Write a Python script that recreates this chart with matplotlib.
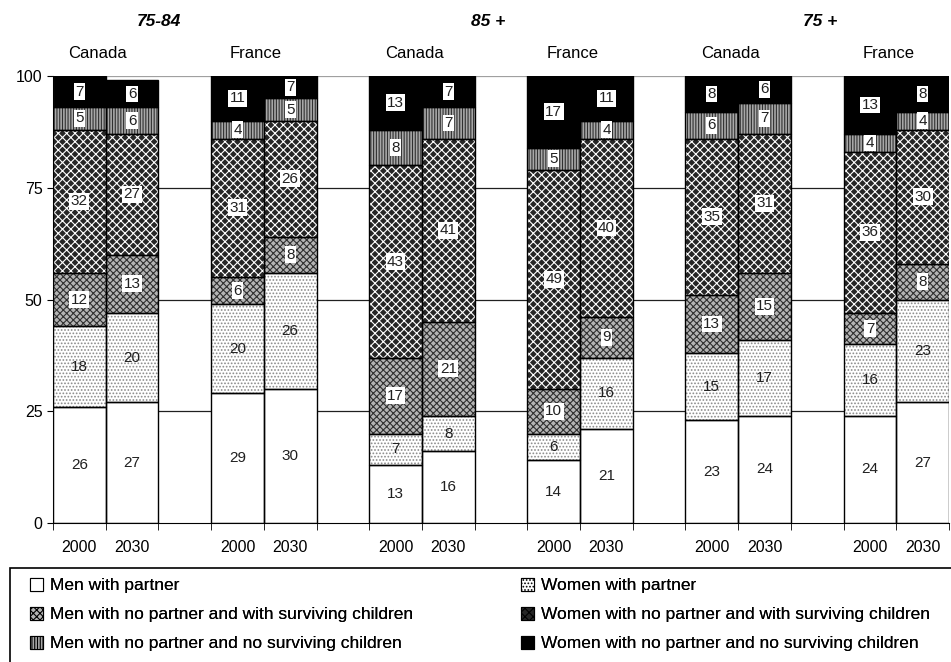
import numpy as np
import matplotlib
matplotlib.use("Agg")
import matplotlib.pyplot as plt

plt.rcParams['font.family'] = ['Liberation Sans', 'DejaVu Sans']
plt.rcParams['hatch.linewidth'] = 0.8

# bars: (age group, country, year)
age_groups = ['75-84', '85 +', '75 +']
countries = ['Canada', 'France', 'Canada', 'France', 'Canada', 'France']
years = ['2000', '2030'] * 6

series_names = [
    'Men with partner',
    'Women with partner',
    'Men with no partner and with surviving children',
    'Women with no partner and with surviving children',
    'Men with no partner and no surviving children',
    'Women with no partner and no surviving children',
]

men_partner = [26, 27, 29, 30, 13, 16, 14, 21, 23, 24, 24, 27]
women_partner = [18, 20, 20, 26, 7, 8, 6, 16, 15, 17, 16, 23]
men_nopartner_children = [12, 13, 6, 8, 17, 21, 10, 9, 13, 15, 7, 8]
women_nopartner_children = [32, 27, 31, 26, 43, 41, 49, 40, 35, 31, 36, 30]
men_nopartner_nochildren = [5, 6, 4, 5, 8, 7, 5, 4, 6, 7, 4, 4]
women_nopartner_nochildren = [7, 6, 11, 7, 13, 7, 17, 11, 8, 6, 13, 8]

values = [men_partner, women_partner, men_nopartner_children,
          women_nopartner_children, men_nopartner_nochildren,
          women_nopartner_nochildren]

# fill style per series: (face, hatch, hatch colour, boxed label)
styles = [
    ('white', None, 'black', False),
    ('white', '.....', '#8a8a8a', False),
    ('#b4b4b4', 'xxxxx', '#303030', True),
    ('#262626', 'xxxx', 'white', True),
    ('#a8a8a8', '||||||', '#303030', True),
    ('black', None, 'black', True),
]

# two bars per country, then an empty slot
x = np.array([g * 3 + b for g in range(6) for b in range(2)], dtype=float)

fig = plt.figure(figsize=(9.51, 6.62), dpi=100)
ax = fig.add_axes([53 / 951, 1 - 523 / 662, 896 / 951, 447 / 662])

for yv, c in [(25, '#202020'), (50, '#202020'), (75, '#202020'), (100, '#a0a0a0')]:
    ax.axhline(yv, color=c, lw=0.9, zorder=0)

bottom = np.zeros(len(x))
for vals, (face, hatch, hc, boxed) in zip(values, styles):
    vals = np.array(vals, dtype=float)
    ax.bar(x, vals, width=1.0, bottom=bottom, color=face, hatch=hatch,
           edgecolor=hc, linewidth=0, zorder=2)
    ax.bar(x, vals, width=1.0, bottom=bottom, fill=False,
           edgecolor='black', linewidth=1.0, zorder=3)
    for xi, b, v in zip(x, bottom, vals):
        top = min(b + v, 100)
        yc = (b + top) / 2
        box = dict(facecolor='white', edgecolor='none', pad=1.0) if boxed else None
        ax.text(xi, yc, f"{int(v)}", ha='center', va='center', fontsize=11,
                color='#202020', zorder=4, bbox=box)
    bottom += vals

ax.set_xlim(-0.5, 16.5)
ax.set_ylim(0, 100)
ax.set_yticks([0, 25, 50, 75, 100])
ax.tick_params(axis='y', labelsize=11.5, length=4, direction='out')
ax.set_xticks(x)
ax.set_xticklabels(years, fontsize=11.5)
ax.tick_params(axis='x', which='major', length=0, pad=12)
ax.set_xticks(np.arange(-0.5, 17, 1.0), minor=True)
ax.tick_params(axis='x', which='minor', length=5, direction='out')
for s in ['top', 'right']:
    ax.spines[s].set_visible(False)
ax.spines['left'].set_color('#707070')

# country labels above each pair
for g, name in enumerate(countries):
    ax.text(g * 3 + 0.35, 105.0, name, ha='center', va='center', fontsize=12,
            clip_on=False)

# age group titles
for xpos, name in zip([1.5, 7.75, 14.05], age_groups):
    ax.text(xpos, 112.3, name, ha='center', va='center', fontsize=12.5,
            fontweight='bold', fontstyle='italic', clip_on=False)

handles = []
for face, hatch, hc, boxed in styles:
    handles.append(plt.Rectangle((0, 0), 1, 1, facecolor=face, hatch=hatch,
                                 edgecolor='black', linewidth=0.8))

# legend frame spanning the width below the chart
frame = plt.Rectangle((10 / 951, -0.05), 1.0, 1 - 568 / 662 + 0.05,
                      transform=fig.transFigure, fill=False,
                      edgecolor='black', linewidth=1.2)
fig.patches.append(frame)

leg_kw = dict(loc='upper left', fontsize=12.5, frameon=False, handlelength=0.75,
              handleheight=0.75, handletextpad=0.4, labelspacing=0.78,
              borderaxespad=0.0, borderpad=0.0)
for col, xpix in [(0, 30), (1, 521)]:
    idx = [col, col + 2, col + 4]
    lg = fig.legend([handles[i] for i in idx], [series_names[i] for i in idx],
                    bbox_to_anchor=(xpix / 951, 1 - 578 / 662), **leg_kw)
    fig.add_artist(lg)

fig.savefig('out.png', dpi=100)
